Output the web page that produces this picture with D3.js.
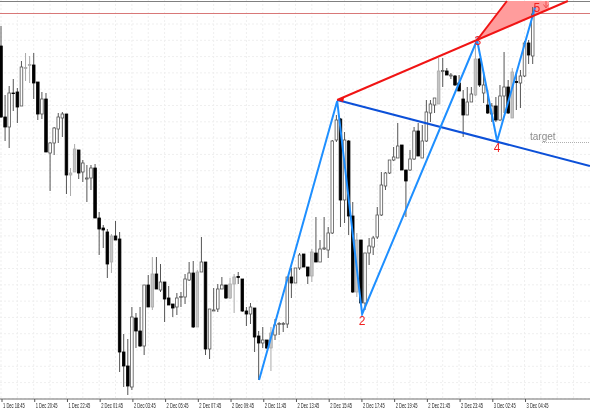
<!DOCTYPE html>
<html>
<head>
<meta charset="utf-8">
<script src="https://cdn.jsdelivr.net/npm/d3@7"></script>
<style>
html, body { margin: 0; padding: 0; background: #fff; overflow: hidden; }
svg { display: block; filter: blur(0.3px); }
</style>
</head>
<body>
<script>
// no price axis on the picture, so levels are plain units counted down from the top edge
var opens = [46,117,127,93,92,106,68.5,65.5,65,82,114,99,153,143,129,118,114,175,172,150,172,179,178,168,218,228,232,262,236,239,352,366,387,318,331,346,285,307,274,290,282,298,304,307,297.5,297,280,273,327,272,262,349,311,309,289,285,298,284,276.5,279,311,314,308,336,343,340,348,335,324.5,324.5,324,277,283,268,254,267,276,253,262,249,250,233,140,119,200,141,216,292,240,303,253,247,237,215,186,173,160,158,145,170,170,159,131,158,141,113,105,104,71.5,71,76,76,83,99,115,102,95,59,93,105,114,106,120,96,87,118,81.5,83,76,43,56],
	closes = [117,127,93,93.5,107,67,67.5,64.5,83,114,99,152,143,128,117,114,175,173,149,173,163,178,168,218,229,230,264,236,240,352,366,386,317,331,346,285,307,274,289,282,299,305,308,298,296.5,279,273,327,272,262,349,309,310,289,285,298,284,277,277.5,311,314,307,337,343,340,348,333,325,323.5,323.5,277,283,268,255,267,276,252,262,249,248,233,141,120,200,140,216,292,240,303,253,246,238,215,185,173,160,157,146,170,181,159,131,156,141,112,104,98,71,70.5,75,75,85,91,115,102,94,59,85,85,113,106,120,96,87,113,72,82.5,76,43,55,14],
	highs = [26,95,86,79,88,61,53,56,53,82,92,93,142,127,113,112,114,168,144,150,160,165,165,164,212,225,229,234,221,232,334,339,307,313,307,285,275,257,257,264,282,286,304,293,292,274,262,261,270,237,262,309,288,284,277,285,278,274,272,279,307,303,308,331,327,340,327,319,322,322,277,268,268,253,254,267,249,217,240,217,227,140,115,118,132,140,202,233,240,253,238,236,207,172,172,160,147,123,145,170,150,127,123,125,100,100,98,58,58,68,73,75,75,90,87,87,40,58,72,90,103,97,85,52,80,68,72,70,41,40,7],
	lows = [118,141,148,111,123,106,81,83,99,120,119,152,191,155,143,137,194,196,172,179,182,202,190,218,255,248,278,273,240,372,387,395,390,348,347,355,307,310,289,292,322,305,317,315,307,304,281,328,327,272,355,359,311,312,289,299,299,313,284,312,326,324,352,380,348,349,371,340,335,332,328,298,283,270,267,284,282,262,262,250,258,234,142,227,223,235,293,297,304,310,265,255,239,216,190,174,161,158,170,217,171,160,156,158,142,122,113,104,87,75,79,86,91,137,115,102,96,87,103,114,122,122,121,113,114,118,110,108,77,64,64],
	greyBars = [6,7,17,18,27,37,48,56,57,66,76,87,107,116,125];

var tickLabels = ["1 Dec 18:45","1 Dec 20:45","1 Dec 22:45","2 Dec 01:45","2 Dec 03:45","2 Dec 05:45","2 Dec 07:45","2 Dec 09:45","2 Dec 11:45","2 Dec 13:45","2 Dec 15:45","2 Dec 17:45","2 Dec 19:45","2 Dec 21:45","2 Dec 23:45","3 Dec 02:45","3 Dec 04:45"];

var waveIdx = [63.1,82.2,88.3,116.4,121.3,130.6],
	waveLevel = [380,101,314,40,141,7],
	redIdx = [82.2,138.6],
	redLevel = [100,1],
	blueIdx = [82.2,144],
	blueLevel = [100,166],
	wedgeIdx = [116.4,123.7,134,134],
	wedgeLevel = [40,1,1,9],
	waveNames = ["2","3","4","5"],
	waveNameIdx = [88.3,116.6,121.3,131],
	waveNameLevel = [325,45,152,12];

var width = 590,
	height = 410,
	axisY = 399,
	candleStep = 4.09,
	barCount = 144;

var x = d3.scaleLinear().domain([0, barCount]).range([1, 1 + candleStep * barCount]),
	y = d3.scaleLinear().domain([0, height]).range([0, height]);

var svg = d3.select("body")
	.append("svg")
	.attr("width", width)
	.attr("height", height);

// dotted grid, one step every four bars
var gridX = d3.range(0, barCount, 4),
	gridY = d3.range(24, axisY, 16.3);

svg.selectAll("line.gx").data(gridX).enter().append("line")
	.attr("class", "gx")
	.attr("x1", function(d) { return x(d); })
	.attr("x2", function(d) { return x(d); })
	.attr("y1", 0)
	.attr("y2", axisY)
	.style("stroke", "#efefef")
	.style("stroke-dasharray", "2,2");

svg.selectAll("line.gy").data(gridY).enter().append("line")
	.attr("class", "gy")
	.attr("x1", 0)
	.attr("x2", width)
	.attr("y1", function(d) { return y(d); })
	.attr("y2", function(d) { return y(d); })
	.style("stroke", "#efefef")
	.style("stroke-dasharray", "2,2");

// top price lines
svg.append("line").attr("x1", 0).attr("x2", width).attr("y1", y(1.5)).attr("y2", y(1.5))
	.style("stroke", "#808080");
svg.append("line").attr("x1", 0).attr("x2", width).attr("y1", y(13.5)).attr("y2", y(13.5))
	.style("stroke", "#d87878");

// wedge behind the candles
svg.append("polygon")
	.attr("points", wedgeIdx.map(function(d, i) { return x(d) + "," + y(wedgeLevel[i]); }).join(" "))
	.style("fill", "#ff9c9c");

// candles
var bars = d3.range(highs.length);

var isGrey = function(i) { return greyBars.indexOf(i) >= 0; };

svg.selectAll("line.wick").data(bars).enter().append("line")
	.attr("class", "wick")
	.attr("x1", function(i) { return x(i); })
	.attr("x2", function(i) { return x(i); })
	.attr("y1", function(i) { return y(highs[i]); })
	.attr("y2", function(i) { return y(lows[i]); })
	.style("stroke", function(i) { return isGrey(i) ? "#aaa" : "#555"; })
	.style("stroke-width", 1);

svg.selectAll("rect.body").data(bars).enter().append("rect")
	.attr("class", "body")
	.attr("x", function(i) { return x(i) - 1.3; })
	.attr("width", 2.6)
	.attr("y", function(i) { return y(Math.min(opens[i], closes[i])); })
	.attr("height", function(i) { return Math.max(0.6, y(Math.abs(closes[i] - opens[i]))); })
	.style("fill", function(i) { return closes[i] > opens[i] ? "#000" : isGrey(i) ? "#c4c4c4" : "#fff"; })
	.style("stroke", function(i) { return closes[i] > opens[i] ? "#000" : isGrey(i) ? "#aaa" : "#555"; })
	.style("stroke-width", 0.8);

// trend lines and zigzag
var lineOf = function(idx, level) {
	return d3.line()
		.x(function(d) { return x(d); })
		.y(function(d, i) { return y(level[i]); })(idx);
};

svg.append("path").attr("d", lineOf(blueIdx, blueLevel))
	.style("fill", "none").style("stroke", "#0c50d8").style("stroke-width", 2);
svg.append("path").attr("d", lineOf(waveIdx, waveLevel))
	.style("fill", "none").style("stroke", "#1e8fff").style("stroke-width", 2);
svg.append("path").attr("d", lineOf(redIdx, redLevel))
	.style("fill", "none").style("stroke", "#f01414").style("stroke-width", 2);
svg.append("path").attr("d", lineOf(wedgeIdx.slice(0, 2), wedgeLevel.slice(0, 2)))
	.style("fill", "none").style("stroke", "#f01414").style("stroke-width", 2);

// small arrow head at the start of the red line
svg.append("path")
	.attr("d", "M0,0L7,-3.5L6,2Z")
	.attr("transform", "translate(" + x(redIdx[0]) + "," + y(redLevel[0]) + ")")
	.style("fill", "#f01414");

// wave numbers
svg.selectAll("text.wave").data(waveNames).enter().append("text")
	.attr("class", "wave")
	.attr("x", function(d, i) { return x(waveNameIdx[i]); })
	.attr("y", function(d, i) { return y(waveNameLevel[i]); })
	.attr("text-anchor", "middle")
	.style("font", "12px 'Liberation Sans', Arial, sans-serif")
	.style("fill", "#f02020")
	.text(function(d) { return d; });

// arrow next to wave 5
svg.append("path")
	.attr("d", "M546,1V7M543.5,4.5L546,8L548.5,4.5")
	.style("fill", "none")
	.style("stroke", "#f05050");

// target
svg.append("text")
	.attr("x", 530)
	.attr("y", 140)
	.style("font", "10px 'Liberation Sans', Arial, sans-serif")
	.style("fill", "#8c8c8c")
	.text("target");
svg.append("line")
	.attr("x1", 542).attr("x2", width).attr("y1", 142.5).attr("y2", 142.5)
	.style("stroke", "#b0b0b0")
	.style("stroke-dasharray", "1,1");

// time axis
var axis = d3.axisBottom(x)
	.tickValues(tickLabels.map(function(d, i) { return i * 8; }))
	.tickFormat(function(d, i) { return tickLabels[i]; })
	.tickSize(3)
	.tickSizeOuter(0);

var axisG = svg.append("g")
	.attr("transform", "translate(0.5," + axisY + ")")
	.call(axis);

axisG.select(".domain").attr("d", "M-1,0H" + width).style("stroke", "#707070");
axisG.selectAll(".tick line").style("stroke", "#555");
// labels squeezed sideways, the picture's are narrow and would run into each other otherwise
axisG.selectAll(".tick text")
	.attr("x", 0)
	.attr("y", 0)
	.attr("dy", 0)
	.attr("text-anchor", "start")
	.attr("transform", "translate(1,9) scale(0.58,1)")
	.style("font", "7px 'Liberation Sans', Arial, sans-serif")
	.style("fill", "#222");
</script>
</body>
</html>
